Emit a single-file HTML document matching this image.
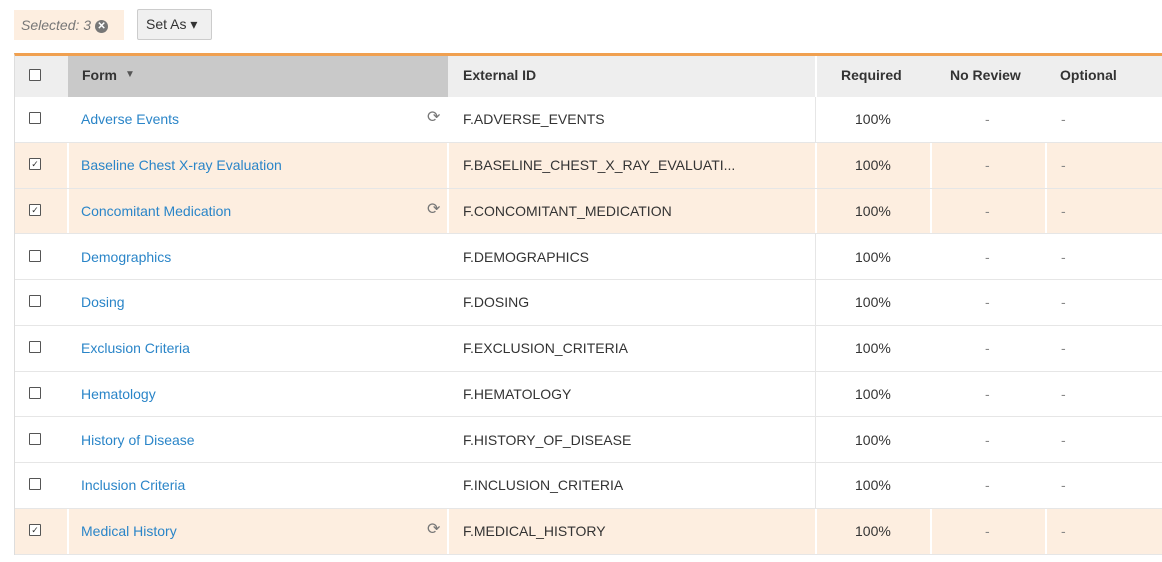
<!DOCTYPE html><html><head><style>
body{margin:0;width:1162px;height:556px;background:#fff;font-family:"Liberation Sans",sans-serif;position:relative;overflow:hidden}
.sel{position:absolute;left:14px;top:10px;width:110px;height:30px;background:#fdeee0;color:#777;font-style:italic;font-size:14px;line-height:30px;padding-left:7px;box-sizing:border-box}
.sel b{display:inline-block;width:13px;height:13px;border-radius:50%;background:#777;color:#fff;font-size:10px;line-height:13px;text-align:center;font-style:normal;vertical-align:1px;margin-left:4px}
.btn{position:absolute;left:137px;top:9px;width:75px;height:31px;border:1px solid #ccc;border-radius:2px;background:#f0f0f0;box-sizing:border-box;font-size:14px;line-height:29px;padding-left:8px;color:#333}
.tbl{position:absolute;left:14px;top:53px;width:1148px;border-top:3px solid #f0a050;border-left:1px solid #ddd}
.r{position:relative;height:45.75px;border-bottom:1px solid #e6e6e6;box-sizing:border-box;font-size:14px;color:#333}
.h{height:41px;background:#eee;font-weight:bold;border-bottom:none}
.h .c{padding-bottom:4px;box-sizing:border-box}
.h .fh{position:absolute;left:53px;top:0;width:380px;height:41px;background:#c9c9c9}
.c{position:absolute;top:0;height:100%;display:flex;align-items:center}
.s{background:#fdeee0}
.s .v{position:absolute;top:0;height:100%;width:2px;background:#fff}
.cb{position:absolute;left:14px;top:50%;margin-top:-7px;width:10px;height:10px;border:1px solid #555;border-radius:1px;background:#fff;font-size:9px;line-height:10px;text-align:center;color:#333}
.h .cb{margin-top:-8px}
a{color:#2a85c8;text-decoration:none}
.ic{position:absolute;left:412px;top:50%;margin-top:-12px;color:#777;font-size:16px}
</style></head><body>
<div class="sel">Selected: 3<b>✕</b></div>
<div class="btn">Set As ▾</div>
<div class="tbl">
<div class="r h"><div class="fh"></div><div class="cb"></div>
<div class="c" style="left:67px">Form <span style="font-size:10px;color:#555;margin-left:8px">▼</span></div>
<div class="c" style="left:448px">External ID</div>
<div style="position:absolute;left:800px;top:0;width:2px;height:41px;background:#fff"></div>
<div class="c" style="left:826px">Required</div>
<div class="c" style="left:935px">No Review</div>
<div class="c" style="left:1045px">Optional</div>
</div>
</div>
<script>
const rows=[["Adverse Events","F.ADVERSE_EVENTS",0,1],["Baseline Chest X-ray Evaluation","F.BASELINE_CHEST_X_RAY_EVALUATI...",1,0],["Concomitant Medication","F.CONCOMITANT_MEDICATION",1,1],["Demographics","F.DEMOGRAPHICS",0,0],["Dosing","F.DOSING",0,0],["Exclusion Criteria","F.EXCLUSION_CRITERIA",0,0],["Hematology","F.HEMATOLOGY",0,0],["History of Disease","F.HISTORY_OF_DISEASE",0,0],["Inclusion Criteria","F.INCLUSION_CRITERIA",0,0],["Medical History","F.MEDICAL_HISTORY",1,1]];
let h="";for(const[f,e,s,i]of rows){h+=`<div class="r${s?' s':''}">`+(s?[52,432,800,915,1030].map(x=>`<div class="v" style="left:${x}px"></div>`).join(''):`<div style="position:absolute;left:800px;top:0;width:1px;height:100%;background:#e6e6e6"></div>`)+`<div class="cb">${s?'✓':''}</div><div class="c" style="left:66px;padding-bottom:1px"><a>${f}</a></div>${i?'<div class="ic">⟳</div>':''}<div class="c" style="left:448px;padding-bottom:8px">${e}</div><div class="c" style="left:840px;padding-bottom:1px">100%</div><div class="c" style="left:970px;color:#888;padding-bottom:1px">-</div><div class="c" style="left:1046px;color:#888;padding-bottom:1px">-</div></div>`}
document.querySelector('.tbl').insertAdjacentHTML('beforeend',h);
</script>
</body></html>
